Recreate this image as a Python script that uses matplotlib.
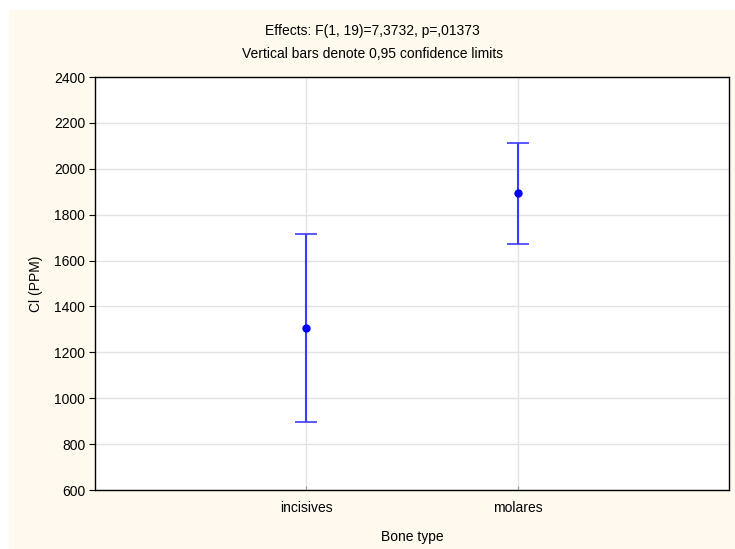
import matplotlib
matplotlib.use("Agg")
import matplotlib.pyplot as plt
from matplotlib.patches import Rectangle

categories = ["incisives", "molares"]
means = [1308, 1896]
lower = [896, 1674]
upper = [1714, 2111]
yticks = [600, 800, 1000, 1200, 1400, 1600, 1800, 2000, 2200, 2400]

plt.rcParams['font.family'] = ['Liberation Sans', 'DejaVu Sans']

fig = plt.figure(figsize=(7.35, 5.49), dpi=100)
fig.patch.set_facecolor('white')
fig.patches.append(Rectangle((9/735, 0.5/549), 1, 1 - 10.5/549, transform=fig.transFigure,
                             facecolor='#FFF9EE', edgecolor='none', zorder=-10))

ax = fig.add_axes([95/735, 1 - 490/549, (729 - 95)/735, (490 - 77)/549])
ax.set_facecolor('white')

xpos = [1, 2]
yerr = [[m - l for m, l in zip(means, lower)], [u - m for m, u in zip(means, upper)]]
ax.errorbar(xpos, means, yerr=yerr, fmt='none', ecolor='#3B3BFF', elinewidth=1.5,
            capsize=8, capthick=1.2, zorder=3)
ax.plot(xpos, means, 'o', color='#0000FF', markersize=5, zorder=4)

ax.set_xlim(0, 3)
ax.set_ylim(600, 2400)
ax.set_yticks(yticks)
ax.set_xticks(xpos)
ax.set_xticklabels(categories)
ax.grid(True, color='#E3E3E3', linewidth=1.0, zorder=0)
ax.set_axisbelow(True)
for s in ax.spines.values():
    s.set_color('black')
    s.set_linewidth(1.0)
ax.tick_params(axis='y', direction='out', length=4, width=0.8, pad=3, labelsize=10)
ax.tick_params(axis='x', direction='in', length=3, width=0.8, color='#999999', pad=8, labelsize=10)

ax.set_ylabel("Cl (PPM)", fontsize=10, labelpad=8)
ax.set_xlabel("Bone type", fontsize=10, labelpad=11)

fig.text(0.507, 1 - 31/549, "Effects: F(1, 19)=7,3732, p=,01373", ha='center', va='center', fontsize=10)
fig.text(0.507, 1 - 54/549, "Vertical bars denote 0,95 confidence limits", ha='center', va='center', fontsize=10)

fig.savefig("out.png", dpi=100)
